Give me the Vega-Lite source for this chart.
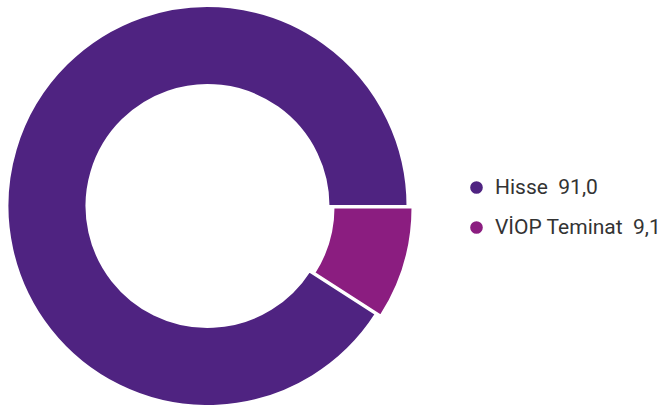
{
  "$schema": "https://vega.github.io/schema/vega-lite/v6.json",
  "width": 671,
  "height": 405,
  "autosize": {"type": "fit", "contains": "padding"},
  "padding": 0,
  "background": "white",
  "view": {"stroke": null},
  "data": {"values": [
    {"k": "Hisse\u00a0 91,0", "v": 91.0},
    {"k": "VİOP Teminat\u00a0 9,1", "v": 9.1}
  ]},
  "mark": {
    "type": "arc",
    "x": 207.5,
    "y": 206,
    "radius": 200,
    "radius2": 121,
    "stroke": "white",
    "strokeWidth": 2,
    "xOffset": {"expr": "datum.k == 'Hisse\u00a0 91,0' ? 0 : 5"},
    "yOffset": {"expr": "datum.k == 'Hisse\u00a0 91,0' ? 0 : 1.5"}
  },
  "encoding": {
    "theta": {"field": "v", "type": "quantitative", "stack": true, "scale": {"range": [1.5708, 7.854]}},
    "order": {"field": "k", "sort": "descending"},
    "color": {
      "field": "k",
      "type": "nominal",
      "sort": ["Hisse\u00a0 91,0", "VİOP Teminat\u00a0 9,1"],
      "scale": {"domain": ["Hisse\u00a0 91,0", "VİOP Teminat\u00a0 9,1"], "range": ["#4f2381", "#8b1d80"]},
      "legend": {
        "title": null,
        "orient": "none",
        "legendX": 466,
        "legendY": 177,
        "symbolType": "circle",
        "symbolSize": 200,
        "labelFont": "Roboto",
        "labelFontSize": 21,
        "labelColor": "#333333",
        "rowPadding": 18,
        "labelOffset": 8,
        "labelLimit": 300
      }
    }
  }
}
